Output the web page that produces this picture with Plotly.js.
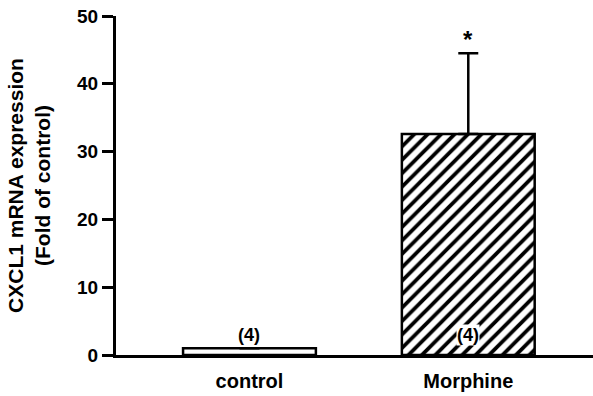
<!DOCTYPE html>
<html>
<head>
<meta charset="utf-8">
<script src="https://cdn.plot.ly/plotly-3.0.1.min.js"></script>
<style>html,body{margin:0;padding:0;background:#fff;}#chart{width:593px;height:396px;}</style>
</head>
<body>
<div id="chart"></div>
<script>
const categories = ["control", "Morphine"];
const meanValues = [1.0, 32.6];
const semUpper = [0, 11.9];
const sampleSizes = ["(4)", "(4)"];
const significance = ["", "*"];
const yTickValues = [0, 10, 20, 30, 40, 50];

const FONT = "Liberation Sans, Arial, sans-serif";

const bar = {
  type: "bar",
  x: categories,
  y: meanValues,
  width: 0.607,
  marker: {
    color: "#ffffff",
    line: { color: "#000000", width: 2.5 },
    pattern: {
      shape: ["", "/"],
      size: 9.5,
      solidity: 0.4,
      fgcolor: "#000000",
      fgopacity: 1,
      bgcolor: "#ffffff",
      fillmode: "overlay"
    }
  },
  error_y: {
    type: "data",
    symmetric: false,
    array: semUpper.map(v => v > 0 ? v : null),
    arrayminus: semUpper.map(() => 0),
    color: "#000000",
    thickness: 2.5,
    width: 10
  },
  hoverinfo: "none"
};

const annotations = [];
categories.forEach((c, i) => {
  annotations.push({
    x: c, y: 2.9, xref: "x", yref: "y",
    text: "<b>" + sampleSizes[i] + "</b>",
    showarrow: false,
    font: { family: FONT, size: 18, color: "#000" },
    bgcolor: i === 1 ? "#ffffff" : "rgba(0,0,0,0)",
    borderpad: 0
  });
  if (significance[i]) {
    annotations.push({
      x: c, y: meanValues[i] + semUpper[i], xref: "x", yref: "y",
      text: "<b>" + significance[i] + "</b>",
      showarrow: false,
      yanchor: "bottom",
      yshift: -2,
      font: { family: FONT, size: 24, color: "#000" }
    });
  }
});

const layout = {
  width: 593, height: 396,
  margin: { l: 116, r: 0, t: 16, b: 41 },
  paper_bgcolor: "#fff", plot_bgcolor: "#fff",
  showlegend: false,
  font: { family: FONT, color: "#000" },
  bargap: 0,
  xaxis: {
    type: "category",
    range: [-0.61, 1.57],
    showline: true, linecolor: "#000", linewidth: 3,
    ticks: "", showgrid: false, zeroline: false,
    tickfont: { family: FONT, size: 20, color: "#000", weight: "bold" },
    ticklabelstandoff: 6
  },
  yaxis: {
    range: [0, 50],
    tickvals: yTickValues,
    ticktext: yTickValues.map(v => "<b>" + v + "</b>"),
    showline: true, linecolor: "#000", linewidth: 3,
    ticks: "outside", ticklen: 11, tickwidth: 3, tickcolor: "#000",
    showgrid: false, zeroline: false,
    tickfont: { family: FONT, size: 19, color: "#000", weight: "bold" },
    title: {
      text: "CXCL1 mRNA expression<br>(Fold of control)",
      font: { family: FONT, size: 21, color: "#000", weight: "bold" },
      standoff: 21
    }
  },
  annotations: annotations
};

Plotly.newPlot("chart", [bar], layout, { staticPlot: true, displayModeBar: false });
</script>
</body>
</html>
